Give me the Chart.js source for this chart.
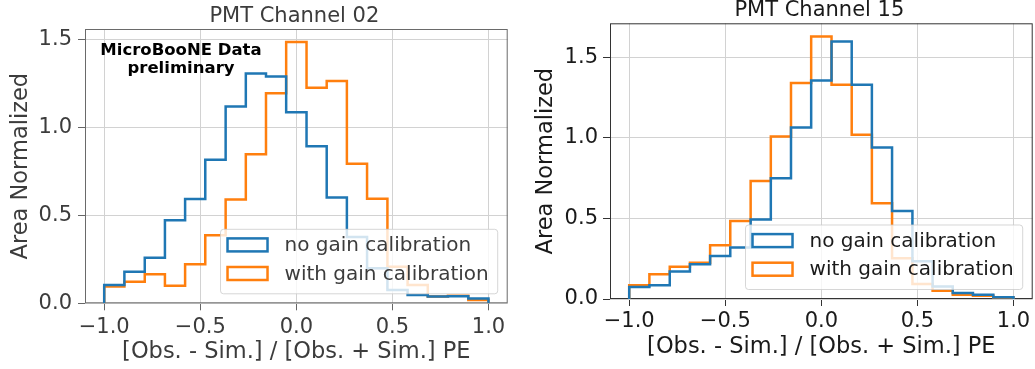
<!DOCTYPE html>
<html>
<head>
<meta charset="utf-8">
<script src="https://cdn.jsdelivr.net/npm/chart.js@4.4.0/dist/chart.umd.min.js"></script>
<style>
  body { margin: 0; background: #fff; }
  #wrap { position: relative; width: 1035px; height: 369px; overflow: hidden; }
  canvas { position: absolute; top: 0; }
  #ch02 { left: 0; }
  #ch15 { left: 520px; }
</style>
</head>
<body>
<div id="wrap">
  <canvas id="ch02" width="520" height="369"></canvas>
  <canvas id="ch15" width="515" height="369"></canvas>
</div>
<script>
// bin edges (19 bins between -1 and 1)
const binEdges = [-1.0, -0.895, -0.789, -0.684, -0.579, -0.474, -0.368, -0.263, -0.158, -0.053,
  0.053, 0.158, 0.263, 0.368, 0.474, 0.579, 0.684, 0.789, 0.895, 1.0];

const seriesNames = ["no gain calibration", "with gain calibration"];

const ch02NoGain = [0.104, 0.18, 0.259, 0.473, 0.594, 0.817, 1.12, 1.308, 1.291, 1.087,
  0.894, 0.602, 0.378, 0.199, 0.076, 0.047, 0.038, 0.04, 0.028];
const ch02WithGain = [0.096, 0.123, 0.166, 0.10, 0.222, 0.388, 0.591, 0.848, 1.195, 1.487,
  1.227, 1.265, 0.795, 0.595, 0.208, 0.104, 0.038, 0.043, 0.019];

const ch15NoGain = [0.074, 0.085, 0.17, 0.216, 0.267, 0.319, 0.493, 0.749, 1.064, 1.355,
  1.597, 1.328, 0.939, 0.546, 0.234, 0.078, 0.037, 0.026, 0.011];
const ch15WithGain = [0.085, 0.153, 0.2, 0.225, 0.334, 0.484, 0.732, 1.008, 1.339, 1.628,
  1.328, 1.018, 0.594, 0.253, 0.093, 0.051, 0.026, 0.02, 0.009];

const xTicks = [-1.0, -0.5, 0.0, 0.5, 1.0];
const yTicks = [0.0, 0.5, 1.0, 1.5];

const BLUE = "#1f77b4";
const ORANGE = "#ff7f0e";
const FONT = "'DejaVu Sans', sans-serif";

// histogram outline: up at first edge, flat across each bin, down at last edge
function stepPoints(values) {
  const pts = [{ x: binEdges[0], y: 0 }];
  values.forEach((v, i) => {
    pts.push({ x: binEdges[i], y: v });
    pts.push({ x: binEdges[i + 1], y: v });
  });
  pts.push({ x: binEdges[binEdges.length - 1], y: 0 });
  return pts;
}

function fmt(v) {
  return v.toFixed(1).replace("-", "\u2212");
}

const framePlugin = {
  id: "frame",
  beforeDatasetsDraw(chart, args, opts) {
    const a = chart.chartArea;
    const ctx = chart.ctx;
    ctx.save();
    ctx.strokeStyle = opts.color;
    ctx.lineWidth = 1;
    ctx.strokeRect(a.left + 0.5, a.top + 0.5, a.right - a.left - 1, a.bottom - a.top - 1);
    ctx.restore();
  }
};

const overlayPlugin = {
  id: "overlay",
  afterDatasetsDraw(chart, args, opts) {
    const a = chart.chartArea;
    const ctx = chart.ctx;
    ctx.save();

    // title
    ctx.fillStyle = opts.textColor;
    ctx.font = "21px " + FONT;
    ctx.textAlign = "center";
    ctx.textBaseline = "alphabetic";
    ctx.fillText(opts.title, (a.left + a.right) / 2 - 2, a.top - 7.3);

    // annotation text
    if (opts.note) {
      ctx.fillStyle = "#000";
      ctx.font = "bold 16.5px " + FONT;
      opts.note.forEach((line, i) => {
        ctx.fillText(line, a.left + 96, a.top + 26 + i * 18);
      });
    }

    // legend
    ctx.font = "20px " + FONT;
    const sets = chart.data.datasets;
    let tw = 0;
    sets.forEach(d => { tw = Math.max(tw, ctx.measureText(d.label).width); });
    const bw = 64 + tw + 9;
    const bh = 64.5;
    const bx = a.right - 10 - bw;
    const by = a.bottom - 9.5 - bh;
    ctx.beginPath();
    ctx.roundRect(bx, by, bw, bh, 3);
    ctx.fillStyle = "rgba(255,255,255,0.8)";
    ctx.fill();
    ctx.strokeStyle = "rgba(204,204,204,0.8)";
    ctx.lineWidth = 1;
    ctx.stroke();
    sets.forEach((d, i) => {
      const cy = by + 15.6 + i * 28.6;
      ctx.strokeStyle = d.borderColor;
      ctx.lineWidth = 2.5;
      ctx.strokeRect(bx + 7, cy - 6.5, 40, 13);
      ctx.fillStyle = opts.textColor;
      ctx.textAlign = "left";
      ctx.textBaseline = "middle";
      ctx.fillText(d.label, bx + 64, cy + 1);
    });
    ctx.restore();
  }
};

function makePanel(id, noGain, withGain, o) {
  const ymax = 1.05 * Math.max(...noGain, ...withGain);
  return new Chart(document.getElementById(id), {
    type: "line",
    data: {
      datasets: [
        { label: seriesNames[0], data: stepPoints(noGain), borderColor: BLUE },
        { label: seriesNames[1], data: stepPoints(withGain), borderColor: ORANGE }
      ]
    },
    options: {
      responsive: false,
      animation: false,
      devicePixelRatio: 1,
      layout: { padding: { top: o.top, right: o.right, left: 0, bottom: 0 } },
      elements: {
        line: { borderWidth: 2.5, tension: 0, fill: false, borderJoinStyle: "miter" },
        point: { radius: 0, hoverRadius: 0 }
      },
      scales: {
        x: {
          type: "linear",
          min: -1.1,
          max: 1.1,
          afterBuildTicks: s => { s.ticks = xTicks.map(v => ({ value: v })); },
          afterFit: s => { s.height = o.xh; },
          ticks: {
            callback: v => fmt(v),
            autoSkip: false,
            maxRotation: 0,
            padding: o.xpad,
            color: o.text,
            font: { family: FONT, size: 21 }
          },
          grid: { color: "#d2d2d2", tickColor: o.tick, tickLength: 7, lineWidth: 1 },
          border: { display: false },
          title: {
            display: true,
            text: "[Obs. - Sim.] / [Obs. + Sim.] PE",
            color: o.text,
            font: { family: FONT, size: 22.5 },
            padding: { top: 0, bottom: o.xtitle }
          }
        },
        y: {
          type: "linear",
          min: 0,
          max: ymax,
          afterBuildTicks: s => { s.ticks = yTicks.map(v => ({ value: v })); },
          afterFit: s => { s.width = o.yw; },
          ticks: {
            callback: v => fmt(v),
            padding: o.ypad,
            color: o.text,
            font: { family: FONT, size: 21 }
          },
          grid: { color: "#d2d2d2", tickColor: o.tick, tickLength: 7, lineWidth: 1 },
          border: { display: false },
          title: {
            display: true,
            text: "Area Normalized",
            color: o.text,
            font: { family: FONT, size: 22.5 },
            padding: { top: o.ytitle, bottom: 0 }
          }
        }
      },
      plugins: {
        legend: { display: false },
        tooltip: { enabled: false },
        frame: { color: o.frame },
        overlay: { title: o.title, note: o.note, textColor: o.text }
      }
    },
    plugins: [framePlugin, overlayPlugin]
  });
}

makePanel("ch02", ch02NoGain, ch02WithGain, {
  title: "PMT Channel 02",
  note: ["MicroBooNE Data", "preliminary"],
  top: 29, right: 12.3, xh: 65.7, yw: 85,
  xpad: 5, ypad: 6, xtitle: 3.5, ytitle: 8,
  text: "#3c3c3c", tick: "#666", frame: "#6a6a6a"
});

makePanel("ch15", ch15NoGain, ch15WithGain, {
  title: "PMT Channel 15",
  note: null,
  top: 23.3, right: 2.3, xh: 70, yw: 90,
  xpad: 3, ypad: 5, xtitle: 8.5, ytitle: 12.5,
  text: "#1a1a1a", tick: "#333", frame: "#333"
});
</script>
</body>
</html>
